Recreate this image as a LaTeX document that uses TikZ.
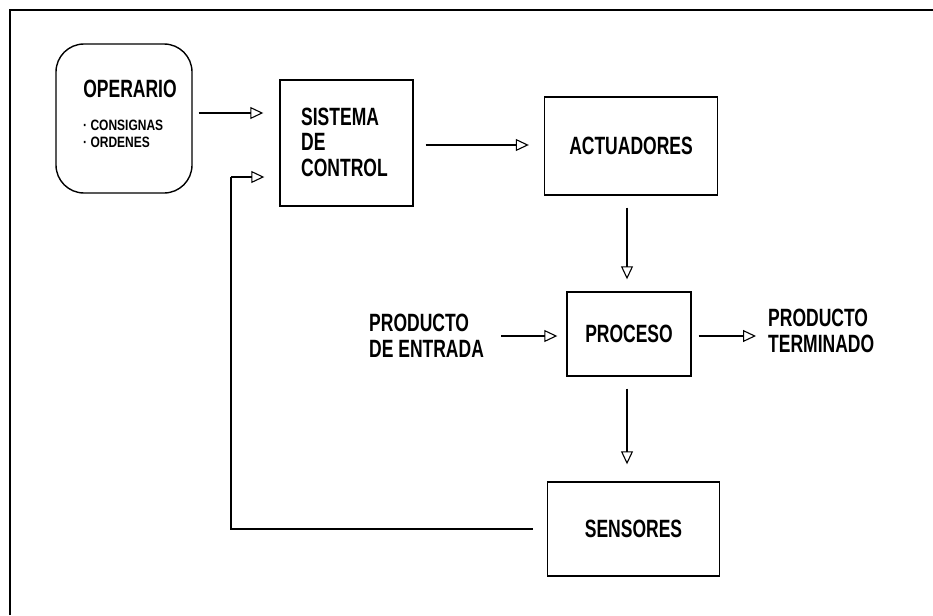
\documentclass[tikz,border=0pt]{standalone}
\usepackage{fontspec}
\setmainfont{Liberation Sans}[FakeStretch=0.7]
\newfontfamily\subfont{Liberation Sans}[FakeStretch=0.8]
\usetikzlibrary{arrows.meta}
\begin{document}
\begin{tikzpicture}[x=1pt,y=-1pt,
  box/.style={draw,line width=1.4pt,minimum width=#1,inner sep=0pt},
  big/.style={font=\bfseries\fontsize{25}{25.5}\selectfont},
  arr/.style={line width=1.1pt,-{Triangle[open,length=13pt,width=12pt,line width=1.1pt]}},
  lin/.style={line width=1.1pt}]
\useasboundingbox (0,0) rectangle (933,615);
\draw[line width=2pt] (10,615) -- (10,10) -- (933,10);
% nodes
\node[box=136pt,minimum height=149pt,rounded corners=28pt] (op) at (124,118.5) {};
\node[big,anchor=center] (optxt) at (130,89) {OPERARIO};
\node[anchor=north west,align=left,font=\subfont\bfseries\fontsize{15}{17}\selectfont,inner sep=0pt] (opsub) at (83,120) {· CONSIGNAS\\· ORDENES};
\node[box=133pt,minimum height=126pt] (sc) at (346.5,143) {};
\node[big,anchor=west,align=left,inner sep=0pt] (sctxt) at (301,142) {SISTEMA\\DE\\CONTROL};
\node[box=173pt,minimum height=98pt,big] (act) at (631,146) {ACTUADORES};
\node[box=124pt,minimum height=84pt,big] (pro) at (629,334) {PROCESO};
\node[box=172pt,minimum height=94pt,big] (sen) at (633.5,529) {SENSORES};
\node[big,anchor=west,align=left,inner sep=0pt] (ent) at (369,336) {PRODUCTO\\DE ENTRADA};
\node[big,anchor=west,align=left,inner sep=0pt] (ter) at (768,331) {PRODUCTO\\TERMINADO};
\coordinate (fb1) at (231,529);
\coordinate (fb2) at (231,177);
% connectors
\draw[arr] ([xshift=6pt]op.east |- 0,113) -- ([xshift=-16pt]sc.west |- 0,113);
\draw[arr] ([xshift=12pt]sc.east |- 0,145) -- ([xshift=-15pt]act.west |- 0,145);
\draw[arr] ([yshift=-12pt]act.south -| 627,0) -- ([yshift=12pt]pro.north -| 627,0);
\draw[arr] ([xshift=-65pt]pro.west |- 0,336) -- ([xshift=-9pt]pro.west |- 0,336);
\draw[arr] ([xshift=7pt]pro.east |- 0,336) -- ([xshift=-12pt]ter.west |- 0,336);
\draw[arr] ([yshift=-12pt]pro.south -| 627,0) -- ([yshift=17pt]sen.north -| 627,0);
\draw[lin] ([xshift=-14pt]sen.west) -- (fb1) -- (fb2);
\draw[arr] (fb2) -- ([xshift=-15pt]sc.west |- fb2);
\end{tikzpicture}
\end{document}
